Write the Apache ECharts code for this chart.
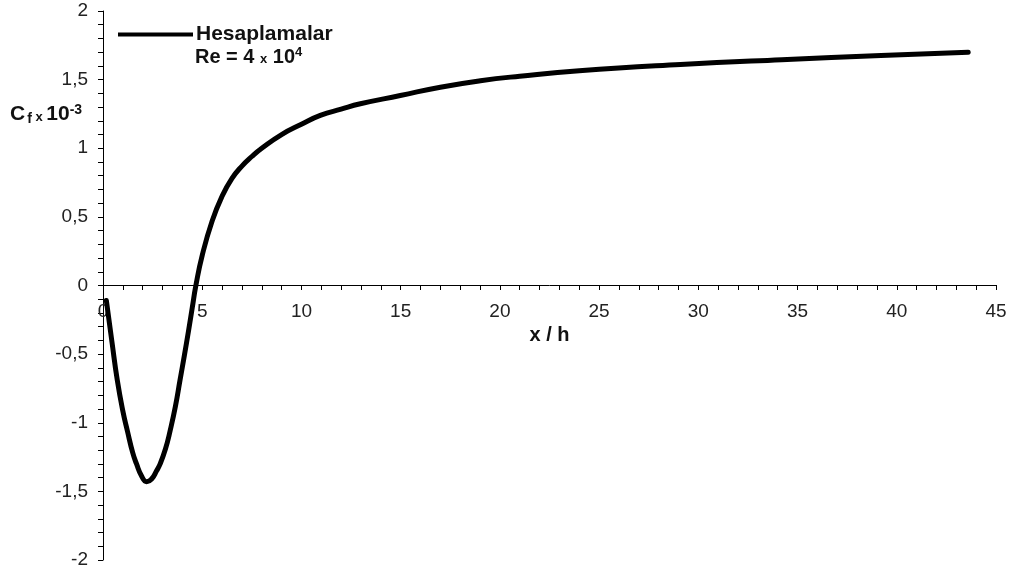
<!DOCTYPE html>
<html>
<head>
<meta charset="utf-8">
<script src="https://cdn.jsdelivr.net/npm/echarts@6/dist/echarts.min.js"></script>
<style>html,body{margin:0;padding:0;background:#fff}#c{width:1010px;height:576px}</style>
</head>
<body>
<div id="c"></div>
<script>
var xh = [0.17, 0.45, 0.72, 1.0, 1.23, 1.5, 1.69, 1.95, 2.2, 2.45, 2.7, 2.88, 3.15, 3.38, 3.65, 3.88, 4.1, 4.31, 4.5, 4.68, 5.0, 5.5, 6.0, 6.5, 7.0, 7.5, 8.0, 9.0, 10.0, 10.95, 12.0, 12.97, 14.98, 17.0, 19.02, 21.0, 24.0, 29.1, 34.2, 39.2, 43.6];
var cf = [-0.11, -0.41, -0.69, -0.915, -1.06, -1.22, -1.30, -1.39, -1.43, -1.41, -1.35, -1.30, -1.19, -1.06, -0.88, -0.69, -0.51, -0.33, -0.16, 0.0, 0.22, 0.47, 0.65, 0.78, 0.87, 0.94, 1.0, 1.10, 1.175, 1.239, 1.285, 1.324, 1.384, 1.445, 1.492, 1.525, 1.565, 1.610, 1.645, 1.675, 1.70];
var xTickLabels = [0, 5, 10, 15, 20, 25, 30, 35, 40, 45];
var seriesName = 'Hesaplamalar';

var chart = echarts.init(document.getElementById('c'));
var data = xh.map(function (v, i) { return [v, cf[i]]; });
var font = 'Arial, "Liberation Sans", sans-serif';
var tickLine = { color: '#000', width: 1 };
chart.setOption({
  animation: false,
  backgroundColor: '#fff',
  grid: [
    { left: 103, right: 14, top: 11, bottom: 16, containLabel: false, outerBoundsMode: 'none' },
    { left: 103, right: 14, top: 11, height: 274, containLabel: false, outerBoundsMode: 'none' }
  ],
  legend: {
    data: [{ name: seriesName, icon: 'rect' }],
    left: 118, top: 24, padding: 0,
    itemWidth: 75, itemHeight: 4, itemGap: 0,
    textStyle: { fontFamily: font, fontWeight: 'bold', fontSize: 21, color: '#111', padding: [0, 0, 0, -2] },
    selectedMode: false
  },
  xAxis: [
    {
      type: 'value', gridIndex: 0, min: 0, max: 45, interval: 5, show: false
    },
    {
      type: 'value', gridIndex: 1, min: 0, max: 45, interval: 5, position: 'bottom',
      name: 'x / h', nameLocation: 'middle', nameGap: 40,
      nameTextStyle: { fontFamily: font, fontWeight: 'bold', fontSize: 20, color: '#111' },
      axisLine: { show: true, onZero: false, lineStyle: tickLine },
      axisTick: { show: true, inside: false, length: 5, lineStyle: tickLine },
      minorTick: { show: true, splitNumber: 5, length: 5, lineStyle: tickLine },
      splitLine: { show: false },
      axisLabel: {
        fontFamily: font, fontSize: 19, color: '#222', margin: 17,
        formatter: function (v) { return xTickLabels.indexOf(v) >= 0 ? String(v) : ''; }
      }
    }
  ],
  yAxis: [
    {
      type: 'value', gridIndex: 0, min: -2, max: 2, interval: 0.5,
      axisLine: { show: true, onZero: false, lineStyle: tickLine },
      axisTick: { show: true, inside: false, length: 5, lineStyle: tickLine },
      minorTick: { show: true, splitNumber: 5, length: 5, lineStyle: tickLine },
      splitLine: { show: false },
      axisLabel: {
        fontFamily: font, fontSize: 19, color: '#222', margin: 15,
        formatter: function (v) { return String(v).replace('.', ','); }
      }
    },
    {
      type: 'value', gridIndex: 1, min: 0, max: 1, show: false
    }
  ],
  graphic: [
    {
      type: 'text', left: 195, top: 46,
      style: {
        text: '{b|Re = 4 }{s|x}{b| 10}{sup|4}',
        rich: {
          b: { fontFamily: font, fontWeight: 'bold', fontSize: 20, fill: '#111' },
          s: { fontFamily: font, fontWeight: 'bold', fontSize: 13, fill: '#111', padding: [5, 0, 0, 0] },
          sup: { fontFamily: font, fontWeight: 'bold', fontSize: 13, fill: '#111', padding: [0, 0, 9, 0] }
        }
      }
    },
    {
      type: 'text', left: 10, top: 103,
      style: {
        text: '{b|C}{sub|f}{s| x }{b|10}{sup|-3}',
        rich: {
          b: { fontFamily: font, fontWeight: 'bold', fontSize: 21, fill: '#111' },
          sub: { fontFamily: font, fontWeight: 'bold', fontSize: 14, fill: '#111', padding: [9, 0, 0, 2] },
          s: { fontFamily: font, fontWeight: 'bold', fontSize: 13, fill: '#111', padding: [5, 0, 0, 0] },
          sup: { fontFamily: font, fontWeight: 'bold', fontSize: 14, fill: '#111', padding: [0, 0, 9, 0] }
        }
      }
    }
  ],
  series: [{
    name: seriesName, type: 'line', xAxisIndex: 0, yAxisIndex: 0, data: data, smooth: 0.5,
    showSymbol: false, symbol: 'none', z: 5,
    lineStyle: { color: '#000', width: 5, cap: 'round', join: 'round' },
    itemStyle: { color: '#000' }
  }]
});
</script>
</body>
</html>
